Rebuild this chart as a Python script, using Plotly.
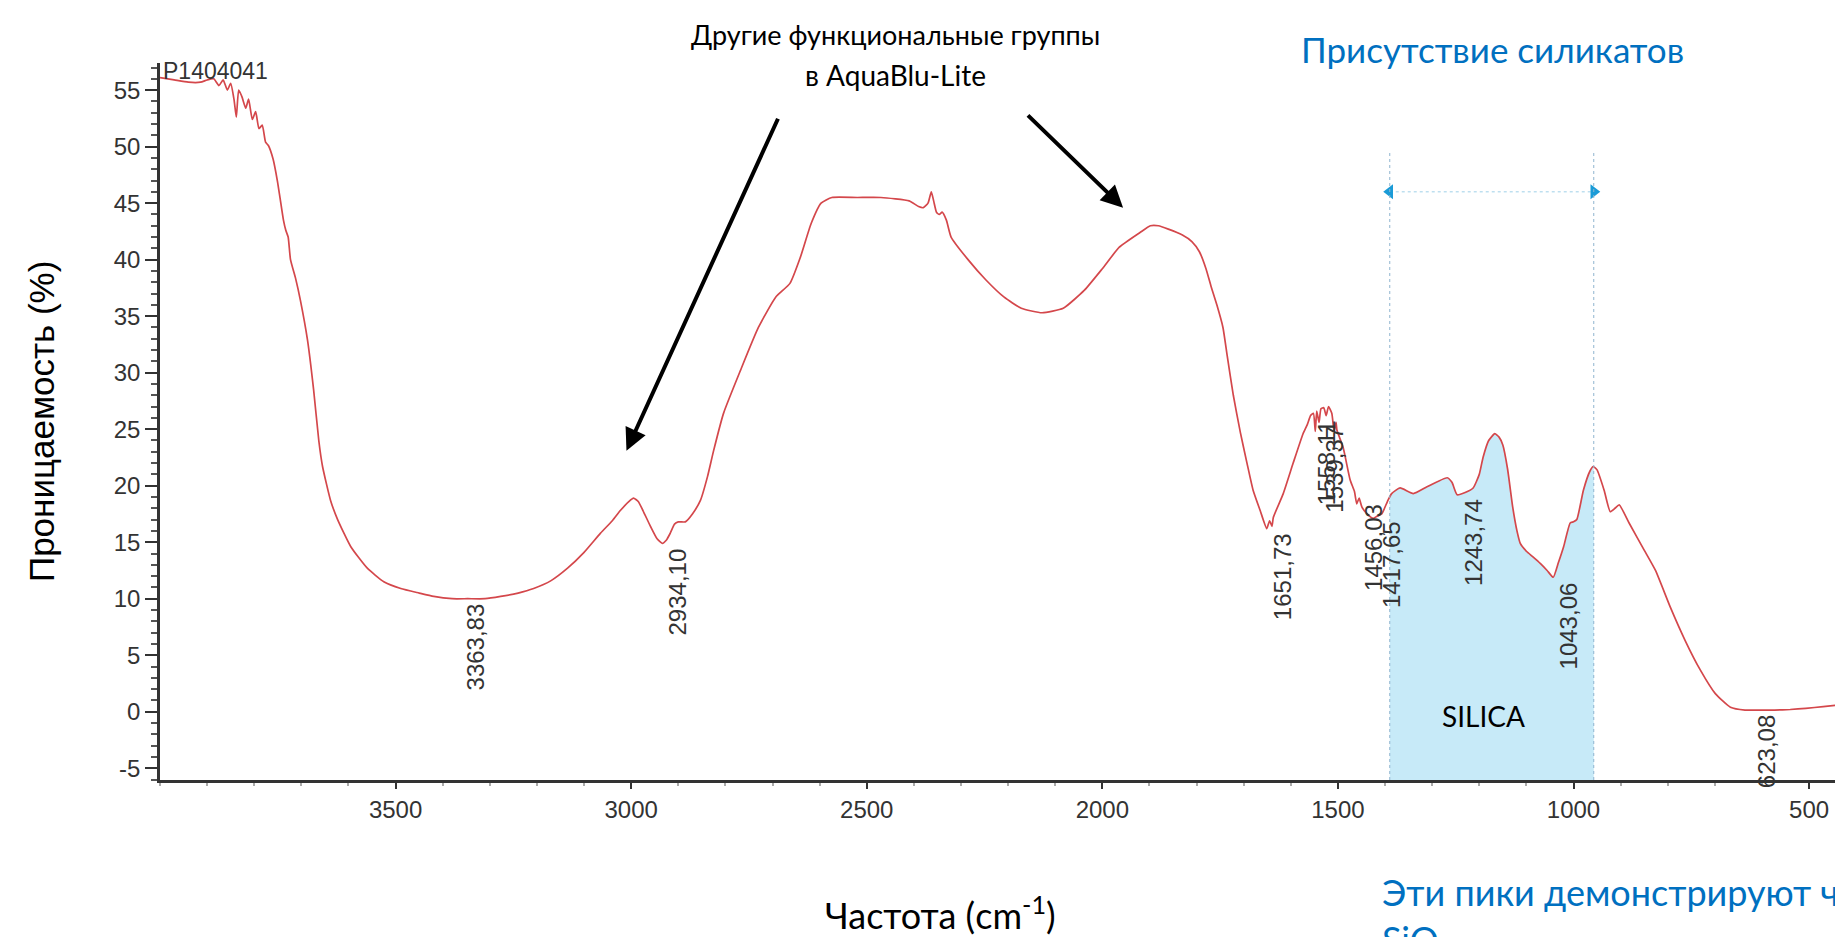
import numpy as np
import plotly.graph_objects as go

# ---------------- data ----------------
wavenumber = [
    4000, 3970, 3940, 3914, 3900, 3886, 3875, 3866, 3857, 3850, 3843, 3838, 3833, 3826,
    3818, 3812, 3804, 3797, 3790, 3783, 3776, 3770, 3760, 3751, 3745, 3738, 3733, 3728,
    3723, 3712, 3702, 3687, 3674, 3663, 3655, 3638, 3623, 3595, 3560, 3525, 3489, 3450,
    3419, 3380, 3347, 3310, 3277, 3240, 3207, 3170, 3135, 3100, 3065, 3040, 3023, 3005,
    2995, 2985, 2975, 2959, 2945, 2934, 2925, 2917, 2908, 2900, 2885, 2870, 2853, 2838,
    2825, 2804, 2768, 2730, 2693, 2663, 2641, 2618, 2597, 2574, 2520, 2470, 2410, 2390,
    2380, 2370, 2363, 2358, 2352, 2346, 2340, 2331, 2321, 2285, 2247, 2209, 2172, 2128,
    2083, 2038, 2000, 1964, 1920, 1898, 1881, 1860, 1831, 1810, 1794, 1780, 1769, 1757,
    1744, 1735, 1722, 1707, 1693, 1680, 1665, 1651, 1645, 1640, 1637, 1616, 1595, 1574,
    1565, 1558, 1552, 1548, 1545, 1540, 1536, 1530, 1525, 1520, 1513, 1508, 1504, 1502,
    1489, 1474, 1465, 1460, 1455, 1449, 1438, 1425, 1417, 1407, 1395, 1386, 1368, 1340,
    1311, 1268, 1258, 1247, 1230, 1213, 1200, 1192, 1180, 1167, 1158, 1150, 1140, 1129,
    1120, 1113, 1100, 1086, 1070, 1056, 1043, 1032, 1021, 1007, 1000, 993, 979, 965,
    958, 950, 935, 922, 912, 903, 882, 850, 826, 795, 763, 731, 699, 667,
    636, 600, 573, 540, 507, 470, 437,
]
transmittance = [
    56.1, 55.9, 55.7, 55.7, 55.9, 56.0, 55.4, 55.9, 55.0, 55.6, 54.2, 52.6, 55.0, 54.4,
    53.4, 54.2, 52.4, 53.1, 51.6, 51.9, 50.4, 50.1, 48.9, 47.0, 45.4, 43.5, 42.6, 42.0,
    40.0, 38.3, 36.4, 32.9, 28.5, 24.0, 21.7, 18.7, 17.0, 14.6, 12.7, 11.5, 10.9, 10.5,
    10.2, 10.0, 10.0, 10.0, 10.2, 10.5, 10.9, 11.6, 12.7, 14.1, 15.8, 16.9, 17.8, 18.6,
    18.9, 18.6, 17.8, 16.4, 15.3, 14.9, 15.2, 15.8, 16.6, 16.8, 16.8, 17.5, 18.7, 20.8,
    23.1, 26.4, 30.2, 34.0, 36.7, 37.9, 40.2, 43.2, 45.0, 45.5, 45.5, 45.5, 45.2, 44.7,
    44.6, 45.0, 46.0, 45.2, 44.2, 44.0, 44.2, 43.5, 42.0, 40.0, 38.2, 36.7, 35.7, 35.3,
    35.7, 37.3, 39.2, 41.1, 42.4, 43.0, 43.0, 42.7, 42.2, 41.6, 40.7, 39.2, 37.6, 36.0,
    34.0, 31.5, 28.0, 24.7, 22.0, 19.6, 17.8, 16.2, 16.9, 16.4, 17.2, 19.3, 22.0, 24.6,
    25.4, 26.2, 26.4, 24.8, 26.6, 25.6, 26.8, 26.9, 26.2, 27.0, 26.4, 24.8, 25.6, 24.9,
    23.4, 20.5, 19.5, 18.4, 18.9, 18.1, 17.5, 17.1, 17.3, 17.5, 18.6, 19.3, 19.8, 19.3,
    19.9, 20.7, 20.3, 19.2, 19.4, 19.8, 21.0, 22.5, 24.0, 24.6, 24.3, 23.6, 21.5, 18.1,
    16.0, 14.9, 14.2, 13.7, 13.1, 12.5, 11.9, 13.2, 14.6, 16.7, 16.8, 17.0, 19.6, 21.3,
    21.7, 21.4, 19.6, 17.7, 18.0, 18.3, 16.7, 14.3, 12.5, 9.3, 6.3, 3.7, 1.6, 0.4,
    0.15, 0.15, 0.15, 0.2, 0.3, 0.45, 0.6,
]
peak_wavenumbers = [3363.83, 2934.10, 1651.73, 1558.11, 1539.37, 1456.03, 1417.65, 1243.74, 1043.06, 623.08]
peak_labels = ["3363,83", "2934,10", "1651,73", "1558,11", "1539,37", "1456,03", "1417,65", "1243,74", "1043,06", "623,08"]
x_ticks = [3500, 3000, 2500, 2000, 1500, 1000, 500]
y_ticks = [-5, 0, 5, 10, 15, 20, 25, 30, 35, 40, 45, 50, 55]
silica_range = [1390, 957]  # cm-1
silica_arrow_level = 46.0
sample_name = "P1404041"

# ---------------- geometry ----------------
W, H = 1835, 937
L, R, T, B = 160, 0, 63, 157
X_RANGE = [4000, 445]
Y_RANGE = [-6.04, 57.4]


def pxx(p):
    return (p - L) / (W - L - R)


def pxy(p):
    return (H - B - p) / (H - T - B)


wn = np.array(wavenumber, dtype=float)
tr = np.array(transmittance, dtype=float)
wn_asc = wn[::-1]
tr_asc = tr[::-1]


def interp(w):
    return float(np.interp(w, wn_asc, tr_asc))


SMOOTH = 0.5
fig = go.Figure()

# silica filled region under the curve (baseline + curve segment, filled between)
hi, lo = silica_range
inner = [(w, t) for w, t in zip(wavenumber, transmittance) if lo < w < hi]
fig.add_trace(go.Scatter(x=[hi, lo], y=[Y_RANGE[0], Y_RANGE[0]], mode="lines",
                         line=dict(width=0), hoverinfo="skip", showlegend=False))
fig.add_trace(go.Scatter(x=[hi] + [p[0] for p in inner] + [lo],
                         y=[interp(hi)] + [p[1] for p in inner] + [interp(lo)],
                         mode="lines", fill="tonexty", fillcolor="#c7eaf8",
                         line=dict(width=0, shape="spline", smoothing=SMOOTH),
                         hoverinfo="skip", showlegend=False))

# spectrum
fig.add_trace(go.Scatter(x=wavenumber, y=transmittance, mode="lines",
                         line=dict(color="#d4474b", width=1.7, shape="spline", smoothing=SMOOTH),
                         showlegend=False))

# blue double arrow
fig.add_trace(go.Scatter(x=silica_range, y=[silica_arrow_level] * 2, mode="lines+markers",
                         line=dict(color="#9fd0e8", width=1, dash="dot"),
                         marker=dict(symbol=["triangle-left", "triangle-right"], size=13,
                                     color="#1a9bd7"),
                         showlegend=False, hoverinfo="skip"))

shapes = []
for xv in silica_range:
    shapes.append(dict(type="line", xref="x", yref="y", x0=xv, x1=xv, y0=Y_RANGE[0], y1=49.7,
                       line=dict(color="#8fb5cf", width=1, dash="dot")))

annotations = []
label_font = dict(family="Liberation Sans, Arial, sans-serif", size=24, color="#333333")
for w, lab in zip(peak_wavenumbers, peak_labels):
    annotations.append(dict(x=w, y=interp(w), xref="x", yref="y", text=lab, textangle=-90,
                            xanchor="left", yanchor="top", showarrow=False, yshift=-3,
                            xshift=0, font=label_font))

# black arrows
annotations.append(dict(x=3010, y=23.1, ax=2687, ay=52.6, xref="x", yref="y", axref="x", ayref="y",
                        text="", showarrow=True, arrowhead=2, arrowsize=1.1, arrowwidth=4,
                        arrowcolor="black"))
annotations.append(dict(x=1956, y=44.6, ax=2161, ay=52.9, xref="x", yref="y", axref="x", ayref="y",
                        text="", showarrow=True, arrowhead=2, arrowsize=1.1, arrowwidth=4,
                        arrowcolor="black"))

calib = "Lato, 'Open Sans', sans-serif"
arial = "Liberation Sans, Arial, sans-serif"
annotations += [
    dict(x=pxx(895), y=pxy(35), xref="paper", yref="paper", text="Другие функциональные группы",
         showarrow=False, xanchor="center", yanchor="middle", font=dict(family=calib, size=27, color="black")),
    dict(x=pxx(895), y=pxy(75), xref="paper", yref="paper", text="в AquaBlu-Lite",
         showarrow=False, xanchor="center", yanchor="middle", font=dict(family=calib, size=28, color="black")),
    dict(x=pxx(1299), y=pxy(49), xref="paper", yref="paper", text="Присутствие силикатов",
         showarrow=False, xanchor="left", yanchor="middle", font=dict(family=calib, size=35, color="#0070c0")),
    dict(x=pxx(1380), y=pxy(868), xref="paper", yref="paper",
         text="Эти пики демонстрируют что<br>SiO<sub>2</sub>",
         showarrow=False, xanchor="left", yanchor="top", align="left",
         font=dict(family=calib, size=36, color="#0070c0")),
    dict(x=pxx(940), y=pxy(913), xref="paper", yref="paper", text="Частота (cm<sup>-1</sup>)",
         showarrow=False, xanchor="center", yanchor="middle", font=dict(family=calib, size=36, color="black")),
    dict(x=pxx(41), y=pxy(421), xref="paper", yref="paper", text="Проницаемость (%)", textangle=-90,
         showarrow=False, xanchor="center", yanchor="middle",
         font=dict(family=arial, size=35, color="black")),
    dict(x=pxx(161), y=pxy(71), xref="paper", yref="paper", text=sample_name,
         showarrow=False, xanchor="left", yanchor="middle",
         font=dict(family=arial, size=23, color="#333333")),
    dict(x=1190, y=-0.4, xref="x", yref="y", text="SILICA", showarrow=False,
         xanchor="center", yanchor="middle", font=dict(family=calib, size=28, color="black")),
]

fig.update_layout(
    width=W, height=H,
    margin=dict(l=L, r=R, t=T, b=B, pad=0),
    paper_bgcolor="white", plot_bgcolor="white",
    shapes=shapes, annotations=annotations,
    showlegend=False,
)
fig.update_xaxes(range=X_RANGE, tickmode="array", tickvals=x_ticks, ticktext=[str(v) for v in x_ticks],
                 showgrid=False, zeroline=False, showline=True, linecolor="#333333", linewidth=2.5,
                 ticks="outside", ticklen=6, tickwidth=1.5, tickcolor="#333333",
                 tickfont=dict(family=arial, size=24, color="#333333"),
                 minor=dict(ticks="outside", dtick=100, tick0=0, ticklen=3, tickcolor="#aaaaaa"))
fig.update_yaxes(range=Y_RANGE, tickmode="array", tickvals=y_ticks, ticktext=[str(v) for v in y_ticks],
                 showgrid=False, zeroline=False, showline=True, linecolor="#333333", linewidth=2.5,
                 ticks="outside", ticklen=12, tickwidth=1.5, tickcolor="#333333",
                 tickfont=dict(family=arial, size=24, color="#333333"),
                 minor=dict(ticks="outside", dtick=1, tick0=0, ticklen=6, tickcolor="#555555"))

fig.write_html("out.html", config={"displayModeBar": False},
               post_script="document.body.style.margin='0px';")
